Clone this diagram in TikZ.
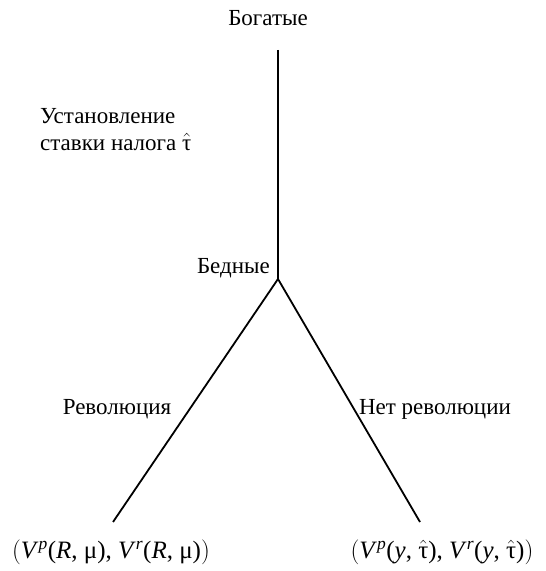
\documentclass[tikz,border=0pt]{standalone}
\usepackage{fontspec}
\setmainfont{Liberation Serif}
\newcommand{\tauhat}{$\hat{\mbox{τ}}$}
\begin{document}
\begin{tikzpicture}[x=1pt,y=1pt,
  lbl/.style={font=\fontsize{23}{27}\selectfont, inner sep=0pt},
  pay/.style={font=\fontsize{25}{29}\selectfont, inner sep=0pt},
  branch/.style={line width=1.8pt}]
\useasboundingbox (0,0) rectangle (546,571);
% nodes (y = 571 - pixel y)
\node[lbl] (rich) at (268,553) {Богатые};
\coordinate (top) at (278,521);
\coordinate (poor) at (278,292);
\coordinate (lend) at (113,49);
\coordinate (rend) at (420,49);
\node[lbl, align=left, anchor=west] (tax) at (40,441) {Установление\\ставки налога \tauhat};
\node[lbl, anchor=east] (poorlbl) at (270,303) {Бедные};
\node[lbl] (rev) at (117,162) {Революция};
\node[lbl] (norev) at (435,162) {Нет революции};
\node[pay] (lpay) at (111,19) {$\biggl($\textit{V}\textsuperscript{\textit{p}}(\textit{R}, μ), \textit{V}\textsuperscript{\textit{r}}(\textit{R}, μ)$\biggr)$};
\node[pay] (rpay) at (442,19) {$\biggl($\textit{V}\textsuperscript{\textit{p}}(\textit{y}, \tauhat), \textit{V}\textsuperscript{\textit{r}}(\textit{y}, \tauhat)$\biggr)$};
\draw[branch] (top) -- (poor);
\draw[branch] (poor) -- (lend);
\draw[branch] (poor) -- (rend);
\end{tikzpicture}
\end{document}
